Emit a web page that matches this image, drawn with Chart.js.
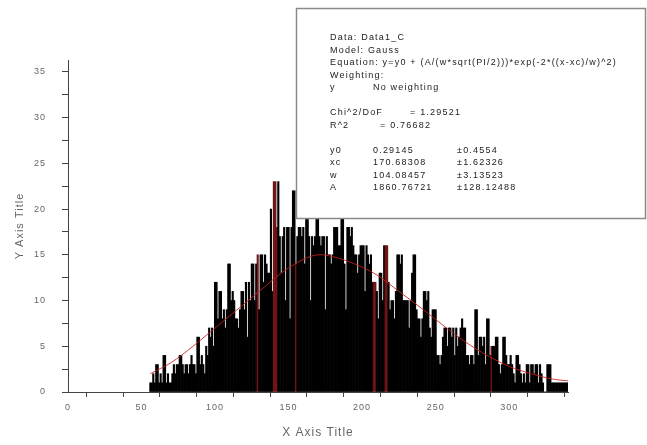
<!DOCTYPE html>
<html>
<head>
<meta charset="utf-8">
<script src="https://cdn.jsdelivr.net/npm/chart.js@4.4.0/dist/chart.umd.min.js"></script>
<style>
html, body { margin: 0; padding: 0; background: #fff; }
#wrap { width: 647px; height: 445px; }
</style>
</head>
<body>
<div id="wrap"><canvas id="histChart" width="647" height="445"></canvas></div>
<script>
// histogram counts, one bin per unit starting at x = 56
const firstBin = 56;
const counts = [
  1, 1, 2, 1, 3, 3, 1, 2, 1, 4,
  4, 1, 2, 1, 1, 2, 3, 2, 3, 3,
  4, 4, 3, 2, 3, 3, 2, 3, 4, 3,
  3, 2, 6, 6, 3, 4, 3, 2, 5, 4,
  7, 6, 7, 5, 12, 12, 8, 11, 11, 8,
  9, 7, 9, 14, 14, 10, 11, 10, 8, 8,
  7, 9, 11, 11, 9, 12, 6, 12, 10, 14,
  14, 10, 14, 15, 9, 15, 15, 12, 15, 14,
  13, 13, 20, 11, 23, 23, 18, 23, 17, 13,
  17, 18, 10, 18, 18, 8, 18, 22, 22, 14,
  17, 18, 18, 17, 18, 14, 20, 20, 17, 10,
  17, 16, 17, 20, 20, 17, 16, 17, 17, 9,
  17, 15, 15, 14, 15, 18, 18, 18, 16, 16,
  21, 21, 14, 9, 18, 18, 17, 18, 16, 15,
  15, 13, 15, 16, 16, 16, 11, 16, 15, 14,
  15, 12, 12, 12, 11, 8, 13, 13, 10, 16,
  16, 16, 12, 9, 10, 10, 8, 11, 15, 15,
  14, 15, 10, 10, 10, 10, 7, 10, 13, 15,
  15, 9, 8, 8, 6, 8, 11, 11, 10, 11,
  7, 6, 9, 9, 9, 4, 4, 3, 4, 6,
  7, 7, 5, 7, 7, 6, 7, 4, 7, 5,
  6, 7, 8, 7, 7, 4, 4, 3, 4, 4,
  3, 9, 9, 4, 6, 6, 5, 6, 3, 8,
  8, 4, 5, 5, 5, 6, 6, 3, 2, 3,
  6, 6, 4, 3, 3, 4, 3, 2, 1, 4,
  4, 3, 2, 1, 2, 1, 3, 3, 1, 3,
  3, 2, 3, 3, 1, 3, 2, 1, 0, 0,
  3, 3, 3, 1, 1, 1, 1, 1, 1, 1,
  1, 1, 1, 1, 1, 1, 0, 0, 0, 0
];
// bins drawn in dark red
const redBins = [129, 140, 141, 142, 155, 208, 209, 216, 217, 288];

// gauss fit curve
const fitX = [56, 70, 85, 100, 115, 130, 145, 160, 170, 180, 195, 210, 225, 240, 255, 270, 285, 300, 315, 330, 342];
const fitY = [2.0, 3.2, 5.0, 7.0, 9.0, 11.0, 13.0, 14.5, 15.0, 14.8, 14.0, 12.8, 11.0, 9.2, 7.3, 5.5, 4.0, 2.8, 2.0, 1.4, 1.2];

// fit report
const reportLines = [
  ['Data: Data1_C'],
  ['Model: Gauss'],
  ['Equation: y=y0 + (A/(w*sqrt(PI/2)))*exp(-2*((x-xc)/w)^2)'],
  ['Weighting:'],
  ['y', 'No weighting'],
  [],
  ['Chi^2/DoF', null, '= 1.29521'],
  ['R^2', '= 0.76682'],
  [],
  ['y0', '0.29145', '\u00b10.4554'],
  ['xc', '170.68308', '\u00b11.62326'],
  ['w', '104.08457', '\u00b13.13523'],
  ['A', '1860.76721', '\u00b1128.12488']
];

const barData = counts.map((c, i) => ({ x: firstBin + i, y: c }));
const barColors = counts.map((c, i) => redBins.includes(firstBin + i) ? '#6e1414' : '#000000');
const fitData = fitX.map((x, i) => ({ x: x, y: fitY[i] }));

const bgAndBox = {
  id: 'bgAndBox',
  beforeDraw(chart) {
    const ctx = chart.ctx;
    ctx.save();
    ctx.fillStyle = '#fff';
    ctx.fillRect(0, 0, chart.width, chart.height);
    ctx.restore();
    ctx.letterSpacing = '1px';
  },
  afterDraw(chart) {
    const ctx = chart.ctx;
    ctx.save();
    ctx.fillStyle = '#fff';
    ctx.fillRect(296, 8, 350, 210);
    ctx.strokeStyle = '#8a8a8a';
    ctx.lineWidth = 1.5;
    ctx.strokeRect(296.5, 8.5, 349, 210);
    ctx.fillStyle = '#222';
    ctx.font = '9px "Liberation Sans", Arial, sans-serif';
    ctx.letterSpacing = '1.2px';
    ctx.textBaseline = 'middle';
    const cols = [330, 373, 457];
    let y = 38;
    reportLines.forEach(line => {
      line.forEach((t, k) => {
        if (t === null) return;
        let x = cols[k];
        if (k === 2 && line[1] === null) x = 410;
        if (k === 1 && line[0] === 'R^2') x = 380;
        ctx.fillText(t, x, y);
      });
      y += 12.5;
    });
    ctx.restore();
  }
};

new Chart(document.getElementById('histChart'), {
  type: 'bar',
  data: {
    datasets: [
      {
        type: 'line',
        data: fitData,
        borderColor: 'rgba(200,30,30,0.85)',
        borderWidth: 1,
        pointRadius: 0,
        tension: 0.35,
        order: 0
      },
      {
        type: 'bar',
        data: barData,
        backgroundColor: barColors,
        borderWidth: 0,
        barPercentage: 1.0,
        categoryPercentage: 1.0,
        grouped: false,
        order: 1
      }
    ]
  },
  options: {
    responsive: false,
    animation: false,
    layout: { padding: { top: 60, right: 79, left: 0, bottom: 0 } },
    plugins: { legend: { display: false }, tooltip: { enabled: false } },
    scales: {
      x: {
        type: 'linear',
        min: 0,
        max: 340,
        offset: false,
        grid: { drawOnChartArea: false, drawTicks: true, tickLength: 5, color: '#444' },
        border: { color: '#444', width: 1 },
        ticks: {
          stepSize: 25,
          includeBounds: false,
          autoSkip: false,
          maxRotation: 0,
          padding: 5,
          color: '#666',
          font: { size: 9 },
          callback: v => (v % 50 === 0 ? v : '')
        },
        title: { display: true, text: 'X Axis Title', color: '#666', font: { size: 12 }, padding: { top: 0, bottom: 5 } },
        afterFit: s => { s.height = 53; }
      },
      y: {
        min: 0,
        max: 36.3,
        grid: { drawOnChartArea: false, drawTicks: true, tickLength: 6, color: '#444' },
        border: { color: '#444', width: 1 },
        ticks: {
          stepSize: 2.5,
          includeBounds: false,
          autoSkip: false,
          padding: 16,
          color: '#666',
          font: { size: 9 },
          callback: v => (v % 5 === 0 ? v : '')
        },
        title: { display: true, text: 'Y Axis Title', color: '#666', font: { size: 11 }, padding: { top: 13, bottom: 0 } },
        afterFit: s => { s.width = 68; }
      }
    }
  },
  plugins: [bgAndBox]
});
</script>
</body>
</html>
